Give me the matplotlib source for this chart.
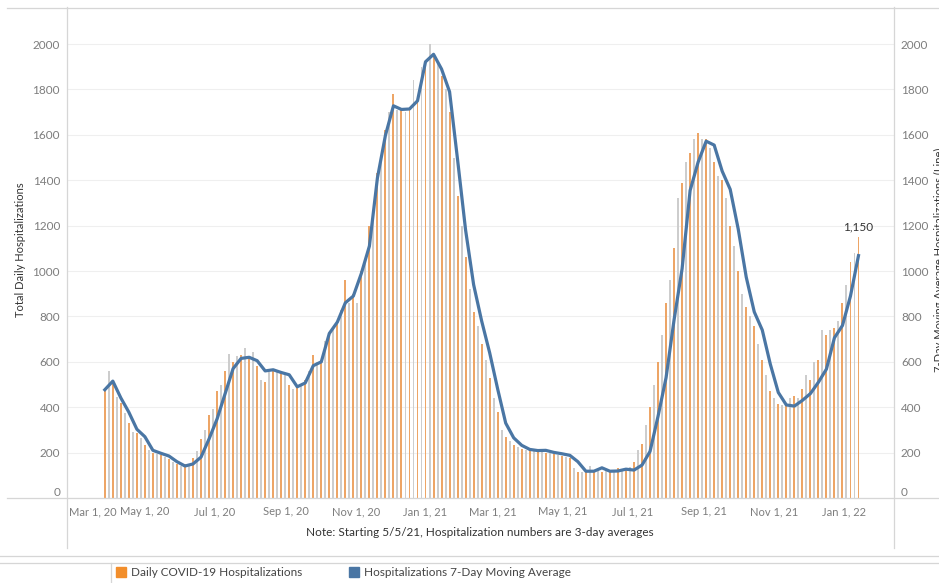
import matplotlib
matplotlib.use("Agg")
import matplotlib.pyplot as plt
import matplotlib.transforms as mtransforms
from matplotlib.lines import Line2D
from matplotlib.patches import Rectangle
import pandas as pd

plt.rcParams['font.family'] = ['Lato', 'DejaVu Sans']

# 7-day moving average, one value per week starting 2020-03-27
line_start = "2020-03-27"
line_values = [477, 515, 441, 378, 303, 270, 210, 197, 185, 160,
               141, 150, 180, 260, 348, 459, 570, 615, 620, 605,
               560, 565, 553, 543, 490, 507, 583, 600, 725, 775,
               860, 890, 990, 1110, 1410, 1598, 1728, 1712, 1714, 1750,
               1922, 1955, 1890, 1790, 1490, 1180, 940, 780, 640, 480,
               330, 265, 232, 214, 209, 210, 201, 195, 188, 160,
               118, 118, 133, 118, 119, 127, 123, 145, 205, 360,
               530, 785, 1010, 1355, 1480, 1572, 1555, 1440, 1360, 1185,
               973, 820, 740, 590, 465, 410, 405, 430, 460, 510,
               568, 706, 760, 890, 1068]

# daily hospitalizations, one bar every half week from the same start
bar_values = [480, 560, 510, 445, 420, 375, 330, 290, 285, 265,
              235, 210, 200, 195, 190, 180, 170, 160, 150, 140,
              150, 150, 175, 205, 260, 300, 365, 390, 470, 500,
              560, 635, 600, 625, 630, 660, 620, 645, 580, 520,
              510, 555, 560, 555, 550, 540, 500, 480, 490, 500,
              520, 560, 630, 600, 610, 690, 720, 750, 780, 830,
              960, 860, 900, 860, 1000, 1050, 1200, 1230, 1430, 1500,
              1620, 1700, 1780, 1710, 1720, 1700, 1710, 1840, 1760, 1900,
              1920, 2000, 1950, 1920, 1860, 1800, 1700, 1500, 1330, 1200,
              1060, 920, 820, 760, 680, 610, 530, 440, 380, 300,
              270, 250, 235, 225, 215, 212, 220, 210, 215, 205,
              200, 200, 195, 190, 185, 180, 175, 130, 115, 115,
              120, 140, 125, 120, 115, 120, 125, 120, 130, 120,
              125, 135, 160, 210, 240, 320, 400, 500, 600, 720,
              860, 960, 1100, 1320, 1390, 1480, 1520, 1580, 1610, 1580,
              1580, 1540, 1480, 1420, 1400, 1320, 1200, 1110, 1000, 900,
              840, 800, 760, 680, 610, 540, 470, 440, 415, 410,
              420, 440, 450, 440, 480, 540, 520, 600, 610, 740,
              720, 740, 750, 780, 860, 940, 1040, 1080, 1150]

tick_dates = ["2020-03-01", "2020-05-01", "2020-07-01", "2020-09-01",
              "2020-11-01", "2021-01-01", "2021-03-01", "2021-05-01",
              "2021-07-01", "2021-09-01", "2021-11-01", "2022-01-01"]
y_ticks = [0, 200, 400, 600, 800, 1000, 1200, 1400, 1600, 1800, 2000]

ORANGE = "#F28E2B"
BAR_ORANGE = "#EDA566"
BAR_GREY = "#CDCDCD"
BLUE = "#4A76A4"
TICK = "#7d7d7d"
RULE = "#d6d6d6"

line_dates = pd.date_range(line_start, periods=len(line_values), freq="7D")
bar_dates = pd.date_range(line_start, periods=len(bar_values), freq="84h")
bar_colors = [BAR_ORANGE if i % 2 == 0 else BAR_GREY for i in range(len(bar_values))]

fig = plt.figure(figsize=(9.39, 5.83), dpi=100)
ax = fig.add_axes([67 / 939, 1 - 498 / 583, 827 / 939, 490 / 583])
ax2 = ax.twinx()

ax.bar(bar_dates, bar_values, width=1.7, color=bar_colors, linewidth=0, zorder=2)
ax2.plot(line_dates, line_values, color=BLUE, linewidth=2.3, zorder=3,
         solid_joinstyle="round")
ax.annotate(f"{bar_values[-1]:,}", (bar_dates[-1], bar_values[-1]),
            xytext=(0, 3), textcoords="offset points", ha="center", va="bottom",
            fontsize=8.5, color="#333333")

for a in (ax, ax2):
    a.set_ylim(0, 2159)
    a.set_yticks(y_ticks)
    a.tick_params(axis="y", length=0, pad=5, labelsize=8.5, labelcolor=TICK)
    for s in a.spines.values():
        s.set_visible(False)
ax.set_xlim(pd.Timestamp("2020-02-23"), pd.Timestamp("2022-02-14"))
ax.set_xticks(pd.to_datetime(tick_dates))
ax.set_xticklabels([f"{d:%b} {d.day}, {d:%y}" for d in pd.to_datetime(tick_dates)])
ax.tick_params(axis="x", length=0, pad=6, labelsize=8, labelcolor=TICK)

# first date label sits flush with the left edge, like Tableau does
first = ax.get_xticklabels()[0]
first.set_horizontalalignment("left")
first.set_transform(first.get_transform() +
                    mtransforms.ScaledTranslation(-6 / 100, 0, fig.dpi_scale_trans))
for a in (ax, ax2):
    a.get_yticklabels()[0].set_verticalalignment("bottom")
ax.grid(axis="y", color="#efefef", linewidth=0.8, zorder=0)
ax.set_axisbelow(True)


def fline(x0, y0, x1, y1):
    fig.add_artist(Line2D([x0 / 939, x1 / 939], [1 - y0 / 583, 1 - y1 / 583],
                          color=RULE, linewidth=0.9))


fline(7, 7.5, 939, 7.5)
fline(7, 498, 939, 498)
fline(67, 7, 67, 548)
fline(894, 7, 894, 548)
fline(0, 556, 939, 556)
fline(0, 563, 939, 563)
fline(110.5, 563, 110.5, 583)

fig.text(21 / 939, 1 - 250 / 583, "Total Daily Hospitalizations", rotation=90,
         ha="center", va="center", fontsize=8, color="#333333")
fig.text(934 / 939, 1 - 260 / 583, "7-Day Moving Average Hospitalizations (Line)",
         rotation=90, ha="left", va="center", fontsize=8, color="#333333")
fig.text(480 / 939, 1 - 533 / 583,
         "Note: Starting 5/5/21, Hospitalization numbers are 3-day averages",
         ha="center", va="center", fontsize=8.5, color="#333333")

# legend row
fig.add_artist(Rectangle((116 / 939, 1 - 577 / 583), 10 / 939, 10 / 583,
                         color=ORANGE, transform=fig.transFigure))
fig.text(131 / 939, 1 - 572.5 / 583, "Daily COVID-19 Hospitalizations",
         ha="left", va="center", fontsize=8.5, color="#444444")
fig.add_artist(Rectangle((349 / 939, 1 - 577 / 583), 10 / 939, 10 / 583,
                         color=BLUE, transform=fig.transFigure))
fig.text(364 / 939, 1 - 572.5 / 583, "Hospitalizations 7-Day Moving Average",
         ha="left", va="center", fontsize=8.5, color="#444444")

fig.savefig("out.png", dpi=100)
